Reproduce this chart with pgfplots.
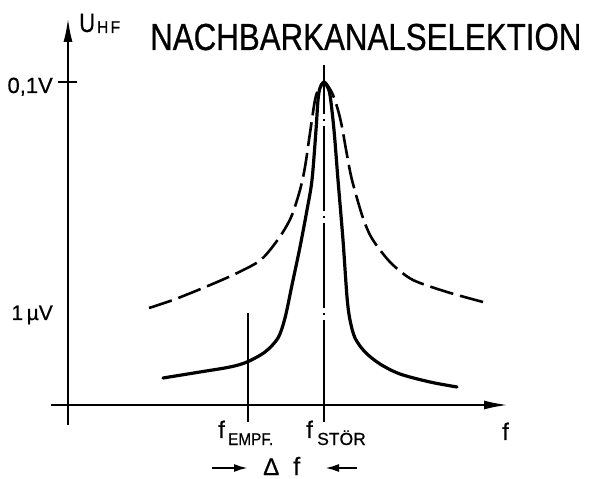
\documentclass[border=0pt]{standalone}
\usepackage{fontspec}
\setmainfont{Liberation Sans}
\newfontfamily\titlefont[FakeStretch=0.83,FakeBold=0.6]{Liberation Sans}
\newfontfamily\narrowfont[FakeStretch=0.9,FakeBold=0.6]{Liberation Sans}
\newfontfamily\labfont[FakeBold=0.6]{Liberation Sans}
\usepackage{pgfplots}
\pgfplotsset{compat=1.18}
\usetikzlibrary{arrows.meta}
\begin{document}
\begin{tikzpicture}
\useasboundingbox (-68pt,-74pt) rectangle (521pt,405pt);
\begin{axis}[
  at={(0pt,0pt)}, anchor=origin,
  x=1pt, y=1pt,
  xmin=-17, xmax=440, ymin=-20, ymax=387,
  axis lines=middle,
  axis line style={line width=2.2pt, -{Latex[length=24pt,width=9pt]}},
  xtick=\empty, ytick=\empty,
  clip=false,
  enlargelimits=false,
]
% selective receiver (solid)
\addplot[line width=3.2pt, smooth, line cap=round, line join=round] coordinates {
(95,27) (132,33) (162,38) (179,43) (197,53) (210,67) (217,87) (224,120)
(232,158) (239,195) (244,225) (248,275) (250,305) (252,317) (256,323)
(259,319) (262,310) (266,275) (270,225) (275,165) (279,108) (282,85)
(287,67) (297,53) (312,41) (332,31) (362,23) (389,18)};
% less selective receiver (dashed)
\addplot[line width=2.6pt, smooth, dash pattern=on 24pt off 7pt] coordinates {
(81,97) (105,105) (135,117) (165,130) (190,143) (202,155) (215,173) (224,190)
(232,215) (237,238) (242,272) (247,305) (251,317) (256,323) (260,319)
(265,310) (270,295) (274,278) (279,250) (284,225) (294,190) (302,170)
(312,155) (325,140) (345,125) (379,113) (415,103)};
% f_stoer line
\addplot[line width=1.5pt, dash pattern=on 85pt off 5pt on 2pt off 5pt] coordinates {(256,0) (256,322)};
\addplot[line width=1.5pt] coordinates {(256,318) (256,340)};
\addplot[line width=1.5pt] coordinates {(256,-17) (256,0)};
% f_empf line
\addplot[line width=1.5pt] coordinates {(180,-17) (180,92)};
% 0,1 V tick
\addplot[line width=2pt] coordinates {(-10,323) (9,323)};
% delta f arrows
\addplot[line width=2.2pt, -{Latex[length=14pt,width=8pt]}] coordinates {(144,-63) (180,-63)};
\addplot[line width=2.2pt, -{Latex[length=14pt,width=8pt]}] coordinates {(289,-63) (257,-63)};
% texts
\node[anchor=base west, inner sep=0pt, font={\titlefont\fontsize{37.7pt}{40pt}\selectfont}] at (axis cs:82,355) {NACHBARKANALSELEKTION};
\node[anchor=base west, inner sep=0pt, font={\titlefont\fontsize{26.5pt}{28pt}\selectfont}] at (axis cs:11,373) {U};
\node[anchor=base west, inner sep=0pt, font={\narrowfont\fontsize{17pt}{18pt}\selectfont}] at (axis cs:29,372) {H\kern2.5pt F};
\node[anchor=base east, inner sep=0pt, font={\labfont\fontsize{22pt}{24pt}\selectfont}] at (axis cs:-15,312) {0,1V};
\node[anchor=base east, inner sep=0pt, font={\labfont\fontsize{21pt}{24pt}\selectfont}] at (axis cs:-15,85) {1\,µV};
\node[anchor=base west, inner sep=0pt, font={\labfont\fontsize{24pt}{24pt}\selectfont}] at (axis cs:150,-33) {f};
\node[anchor=base west, inner sep=0pt, font={\narrowfont\fontsize{17pt}{18pt}\selectfont}] at (axis cs:160,-40) {EMPF.};
\node[anchor=base west, inner sep=0pt, font={\labfont\fontsize{24pt}{24pt}\selectfont}] at (axis cs:238,-33) {f};
\node[anchor=base west, inner sep=0pt, font={\labfont\fontsize{17.5pt}{18pt}\selectfont}] at (axis cs:249,-40) {STÖR};
\node[anchor=base west, inner sep=0pt, font={\labfont\fontsize{24pt}{24pt}\selectfont}] at (axis cs:434,-35) {f};
\node[anchor=base west, inner sep=0pt, font={\labfont\fontsize{24pt}{24pt}\selectfont}] at (axis cs:195,-70) {Δ};
\node[anchor=base west, inner sep=0pt, font={\labfont\fontsize{25pt}{25pt}\selectfont}] at (axis cs:225,-70) {f};
\end{axis}
\end{tikzpicture}
\end{document}
